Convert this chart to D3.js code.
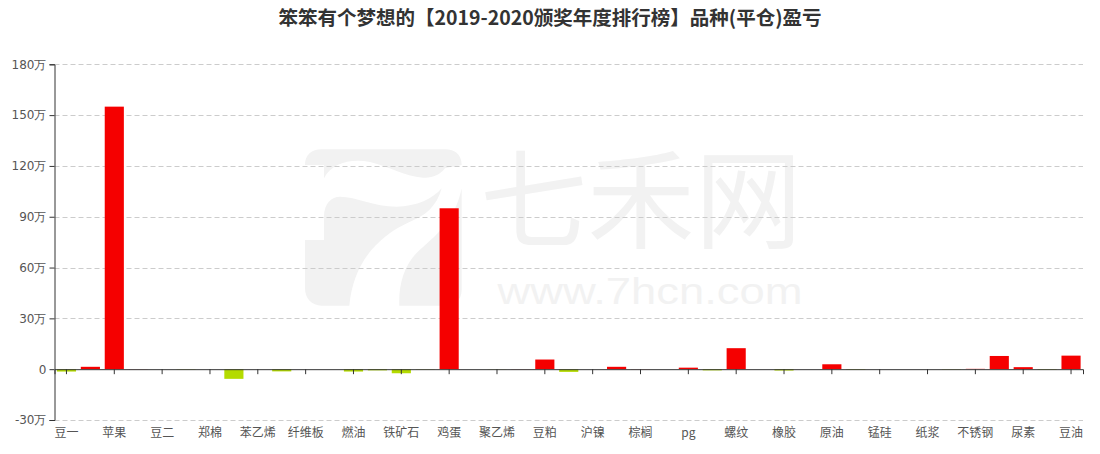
<!DOCTYPE html>
<html>
<head>
<meta charset="utf-8">
<script src="https://cdn.jsdelivr.net/npm/d3@7/dist/d3.min.js"></script>
<style>
  html, body { margin: 0; padding: 0; background: #fff; }
  svg { display: block; font-family: "Noto Sans CJK SC", "Noto Sans", sans-serif; }
</style>
</head>
<body>
<svg id="chart" width="1100" height="454"></svg>
<script>
// ---- data ----
const titleText = "笨笨有个梦想的【2019-2020颁奖年度排行榜】品种(平仓)盈亏";
const categories = [
  "豆一","玉米","苹果","白糖","豆二","菜粕","郑棉","甲醇","苯乙烯","PTA",
  "纤维板","沪铜","燃油","沪铝","铁矿石","焦炭","鸡蛋","焦煤","聚乙烯","沥青",
  "豆粕","沪锌","沪镍","沪金","棕榈","沪银","pg","玻璃","螺纹","热卷",
  "橡胶","红枣","原油","硅铁","锰硅","乙二醇","纸浆","淀粉","不锈钢","菜油",
  "尿素","聚丙烯","豆油"
];
// profit/loss in yuan
const values = [
  -14000, 14000, 1550000, 1000, 0, -2000, 0, -57000, 0, -13000,
  0, 0, -14000, -7000, -24000, -2000, 950000, 0, -1000, 1000,
  57000, -16000, 0, 14000, 1000, 0, 9000, -7000, 124000, 0,
  -8000, 0, 29000, -3000, 0, 0, 0, -2000, 2000, 78000,
  12000, -3000, 80000
];
const yTicks = [-300000, 0, 300000, 600000, 900000, 1200000, 1500000, 1800000];

// ---- layout ----
const svg = d3.select("#chart");
const gLeft = 54.5, gRight = 1083, gTop = 64.3, gBottom = 420;

const x = d3.scaleBand().domain(categories).range([gLeft, gRight])
  .paddingInner(0.2).paddingOuter(0.1);
const y = d3.scaleLinear().domain([-300000, 1800000]).range([gBottom, gTop]);

// ---- watermark ----
const wm = svg.append("g").attr("transform", "translate(290,140) scale(0.3333)").attr("fill", "#f2f2f2");
wm.append("path").attr("d",
  "M45,75 C45,45 65,28 95,28 L465,28 C495,28 515,45 515,75 C500,80 480,80 465,85 C450,105 425,115 400,113 C340,108 300,80 240,66 C180,55 125,70 102,115 L102,75 Z");
wm.append("path").attr("d",
  "M45,300 L102,300 L102,230 C102,190 125,170 150,170 C200,170 250,200 320,200 C380,200 430,175 455,145 C440,200 405,228 360,245 C260,290 190,370 178,497 L95,497 C65,497 45,475 45,445 Z");
wm.append("path").attr("d",
  "M515,145 L515,450 C515,480 495,497 465,497 L328,497 C325,420 350,360 400,320 C460,270 500,220 515,145 Z");
svg.append("text").attr("fill", "#f2f2f2").attr("text-anchor", "middle")
  .attr("x", 641).attr("y", 240)
  .attr("font-size", 108)
  .attr("textLength", 322).attr("lengthAdjust", "spacingAndGlyphs")
  .text("七禾网");
svg.append("text").attr("fill", "#f2f2f2").attr("text-anchor", "middle")
  .attr("x", 650).attr("y", 304)
  .attr("font-size", 36)
  .attr("font-family", "Liberation Sans, sans-serif")
  .attr("textLength", 305).attr("lengthAdjust", "spacingAndGlyphs")
  .text("www.7hcn.com");

// ---- grid lines ----
svg.append("g").selectAll("line").data(yTicks.filter(d => d !== 0)).join("line")
  .attr("x1", gLeft).attr("x2", gRight)
  .attr("y1", d => Math.round(y(d)) + 0.5).attr("y2", d => Math.round(y(d)) + 0.5)
  .attr("stroke", "#ccc").attr("stroke-dasharray", "5,3");

// ---- bars ----
const data = categories.map((c, i) => ({ c, v: values[i] }));
svg.append("g").selectAll("rect").data(data).join("rect")
  .attr("x", d => x(d.c))
  .attr("width", x.bandwidth())
  .attr("y", d => y(Math.max(0, d.v)))
  .attr("height", d => Math.abs(y(d.v) - y(0)))
  .attr("fill", d => d.v >= 0 ? "#f50000" : "#b4db00");

// ---- y axis ----
const fmt = d => d === 0 ? "0" : (d / 10000) + "万";
const yAxis = svg.append("g").attr("transform", `translate(${gLeft},0)`)
  .call(d3.axisLeft(y).tickValues(yTicks).tickFormat(fmt).tickSize(5).tickPadding(3));
yAxis.select(".domain").attr("stroke", "#333");
yAxis.selectAll(".tick line").attr("stroke", "#333");
yAxis.selectAll("text").attr("fill", "#555").attr("font-size", 12)
  .attr("font-family", "DejaVu Sans, sans-serif");

// ---- x axis line at zero with ticks ----
const evenCats = categories.filter((c, i) => i % 2 === 0);
const xAxisZero = svg.append("g").attr("transform", `translate(0,${y(0)})`)
  .call(d3.axisBottom(x).tickValues(evenCats).tickSize(5).tickFormat(""));
xAxisZero.select(".domain").attr("stroke", "#333");
xAxisZero.selectAll(".tick line").attr("stroke", "#333");

// ---- x labels at bottom ----
const xLabels = svg.append("g").attr("transform", `translate(0,${gBottom})`)
  .call(d3.axisBottom(x).tickValues(evenCats).tickSize(0).tickPadding(8));
xLabels.select(".domain").remove();
xLabels.selectAll("text").attr("fill", "#555").attr("font-size", 12)
  .attr("font-family", "\"Noto Sans CJK SC\", sans-serif");

// ---- title ----
svg.append("text").attr("x", 550).attr("y", 16)
  .attr("text-anchor", "middle").attr("dominant-baseline", "central")
  .attr("font-size", 19.5).attr("font-weight", "bold").attr("fill", "#333")
  .text(titleText);
</script>
</body>
</html>
